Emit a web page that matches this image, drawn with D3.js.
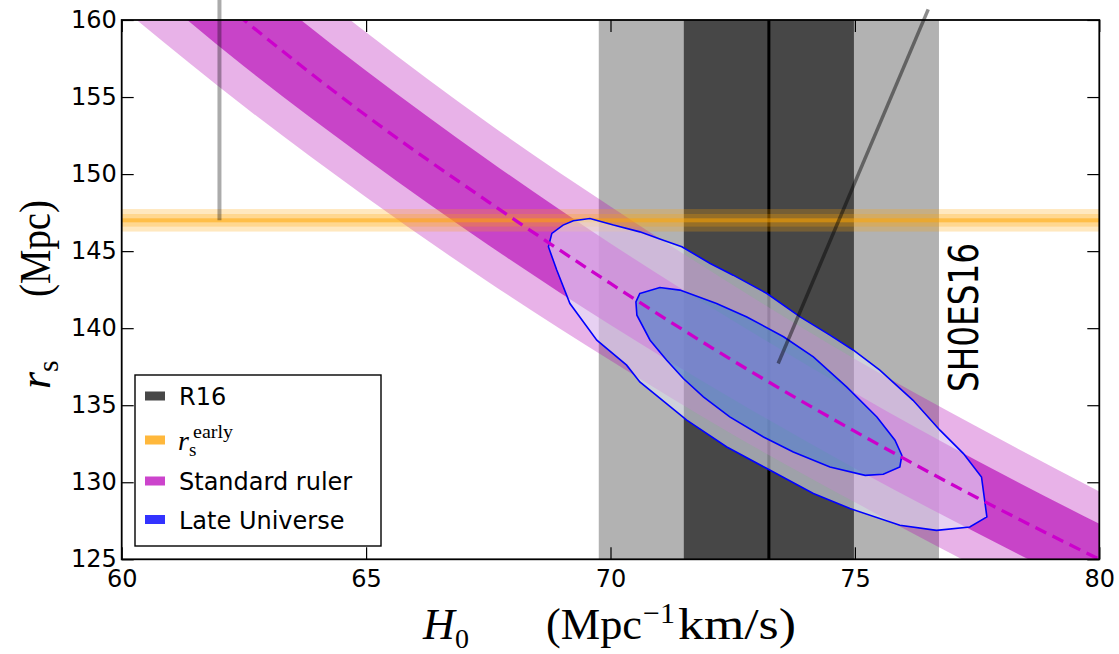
<!DOCTYPE html>
<html>
<head>
<meta charset="utf-8">
<script src="https://cdn.jsdelivr.net/npm/d3@7"></script>
<style>
html, body { margin: 0; padding: 0; background: #fff; }
svg { display: block; }
</style>
</head>
<body>
<svg id="chart" width="1119" height="654"></svg>
<script>
// ---- values ----
const xTicks = [60, 65, 70, 75, 80];
const yTicks = [125, 130, 135, 140, 145, 150, 155, 160];

// R16 local H0 (mean, 1 sigma, 2 sigma)
const r16Mid = 73.24;
const r16Inner = [71.50, 74.98];
const r16Outer = [69.76, 76.72];

// early-universe sound horizon
const rsEarlyMid = 147.0;
const rsEarlyHalfWidths = [0.73, 0.41, 0.13];

// standard ruler band, sampled along H0
const rulerH0   = [60, 62.5, 65, 67.5, 70, 72.5, 75, 77.5, 80];
const rulerMid  = [166.7, 160.0, 153.8, 148.2, 142.9, 137.9, 133.3, 129.0, 125.0];
const rulerLo1  = [163.6, 157.0, 151.0, 145.4, 140.2, 135.4, 130.9, 126.7, 122.7];
const rulerHi1  = [169.8, 163.0, 156.7, 150.9, 145.5, 140.5, 135.8, 131.4, 127.3];
const rulerLo2  = [160.8, 154.4, 148.5, 143.0, 137.9, 133.1, 128.7, 124.5, 120.6];
const rulerHi2  = [172.5, 165.6, 159.2, 153.3, 147.9, 142.8, 138.0, 133.6, 129.4];

// late universe contours [H0, rs]
const lateOuter = [
  [69.24, 146.97], [69.58, 147.12], [70.06, 146.69], [70.60, 146.25], [71.08, 145.71],
  [71.46, 145.28], [72.04, 144.20], [72.51, 143.44], [73.20, 142.25], [73.88, 140.73],
  [74.49, 139.55], [74.97, 138.57], [75.51, 137.27], [76.19, 135.32], [76.74, 133.38],
  [77.22, 131.86], [77.59, 130.34], [77.70, 127.75], [77.35, 127.10], [76.67, 126.88],
  [75.92, 127.21], [74.90, 128.29], [74.15, 129.27], [73.20, 130.89], [72.38, 132.29],
  [71.56, 134.03], [70.60, 136.51], [70.33, 137.60], [69.72, 139.22], [69.17, 141.60],
  [68.90, 143.77], [68.73, 145.28], [68.80, 146.15], [69.03, 146.69]
];
const lateInner = [
  [70.60, 142.25], [71.01, 142.64], [71.42, 142.47], [72.17, 141.60], [72.79, 140.73],
  [73.54, 139.44], [74.15, 138.14], [74.83, 136.19], [75.45, 134.24], [75.82, 132.73],
  [75.96, 131.75], [75.92, 130.99], [75.58, 130.52], [75.21, 130.45], [74.49, 130.99],
  [73.74, 131.97], [73.13, 132.94], [72.44, 134.24], [71.90, 135.54], [71.49, 136.73],
  [71.15, 137.92], [70.81, 139.22], [70.54, 140.84], [70.52, 141.71]
];

// grey guide lines [H0, rs]
const guideVertical = [[62.0, 147.0], [62.0, 161.4]];
const guideDiagonal = [[73.43, 137.71], [76.50, 160.69]];

const legendLabels = ["R16", "r_s^early", "Standard ruler", "Late Universe"];
const legendColors = ["#474747", "#ffb83c", "#cc44cc", "#3333ff"];

// ---- drawing ----
const svg = d3.select("#chart");
const x = d3.scaleLinear().domain([60, 80]).range([121.7, 1099.3]);
const y = d3.scaleLinear().domain([125, 160]).range([559.3, 20]);
const [x0, x1] = x.range();
const [yb, yt] = y.range();

svg.append("defs").append("clipPath").attr("id", "plotClip")
  .append("rect").attr("x", x0).attr("y", yt).attr("width", x1 - x0).attr("height", yb - yt);

const plot = svg.append("g").attr("clip-path", "url(#plotClip)");

// R16 bands
plot.append("rect")
  .attr("x", x(r16Outer[0])).attr("y", yt)
  .attr("width", x(r16Outer[1]) - x(r16Outer[0])).attr("height", yb - yt)
  .attr("fill", "#000").attr("fill-opacity", 0.3);
plot.append("rect")
  .attr("x", x(r16Inner[0])).attr("y", yt)
  .attr("width", x(r16Inner[1]) - x(r16Inner[0])).attr("height", yb - yt)
  .attr("fill", "#000").attr("fill-opacity", 0.6);
plot.append("line")
  .attr("x1", x(r16Mid)).attr("x2", x(r16Mid)).attr("y1", yt).attr("y2", yb)
  .attr("stroke", "#000").attr("stroke-width", 3);

// standard ruler bands
const rulerArea = (lo, hi) => d3.area()
  .x((d, i) => x(rulerH0[i]))
  .y0((d, i) => y(lo[i]))
  .y1((d, i) => y(hi[i]))
  .curve(d3.curveMonotoneX)(rulerH0);
plot.append("path").attr("d", rulerArea(rulerLo2, rulerHi2))
  .attr("fill", "rgb(180,0,180)").attr("fill-opacity", 0.3);
plot.append("path").attr("d", rulerArea(rulerLo1, rulerHi1))
  .attr("fill", "rgb(180,0,180)").attr("fill-opacity", 0.62);

// early sound horizon band
const orangeOpacity = [0.25, 0.25, 0.5];
rsEarlyHalfWidths.forEach((hw, i) => {
  plot.append("rect")
    .attr("x", x0).attr("width", x1 - x0)
    .attr("y", y(rsEarlyMid + hw)).attr("height", y(rsEarlyMid - hw) - y(rsEarlyMid + hw))
    .attr("fill", "rgb(255,165,0)").attr("fill-opacity", orangeOpacity[i]);
});

// late universe contours
const contourLine = d3.line().x(d => x(d[0])).y(d => y(d[1])).curve(d3.curveLinearClosed);
plot.append("path").attr("d", contourLine(lateOuter))
  .attr("fill", "rgb(230,235,250)").attr("fill-opacity", 0.55)
  .attr("stroke", "#0000ff").attr("stroke-width", 1.6);
plot.append("path").attr("d", contourLine(lateInner))
  .attr("fill", "rgb(70,130,200)").attr("fill-opacity", 0.6)
  .attr("stroke", "#0000ff").attr("stroke-width", 1.6);

// ruler centre (dashed)
plot.append("path")
  .attr("d", d3.line().x((d, i) => x(rulerH0[i])).y((d, i) => y(rulerMid[i])).curve(d3.curveMonotoneX)(rulerH0))
  .attr("fill", "none").attr("stroke", "#cc00cc").attr("stroke-width", 3.3)
  .attr("stroke-dasharray", "12,7");

// grey guide lines (not clipped, they run past the top)
const guide = d3.line().x(d => x(d[0])).y(d => y(d[1]));
svg.append("path").attr("d", guide(guideVertical))
  .attr("stroke", "#000").attr("stroke-opacity", 0.33).attr("stroke-width", 4).attr("fill", "none");
svg.append("path").attr("d", guide(guideDiagonal))
  .attr("stroke", "#000").attr("stroke-opacity", 0.45).attr("stroke-width", 3.5).attr("fill", "none");

// axes, ticks pointing inward on all four sides
const styleAxis = g => {
  g.select(".domain").remove();
  g.selectAll(".tick line").attr("stroke", "#000").attr("stroke-width", 1.2);
  g.selectAll("text").attr("font-family", "DejaVu Sans").attr("font-size", 24).attr("fill", "#000");
};
svg.append("g").attr("transform", `translate(0,${yb})`)
  .call(d3.axisBottom(x).tickValues(xTicks).tickSize(-12).tickPadding(11).tickFormat(d3.format("d")))
  .call(styleAxis);
svg.append("g").attr("transform", `translate(0,${yt})`)
  .call(d3.axisTop(x).tickValues(xTicks).tickSize(-12).tickFormat(""))
  .call(styleAxis);
svg.append("g").attr("transform", `translate(${x0},0)`)
  .call(d3.axisLeft(y).tickValues(yTicks).tickSize(-12).tickPadding(5).tickFormat(d3.format("d")))
  .call(styleAxis);
svg.append("g").attr("transform", `translate(${x1},0)`)
  .call(d3.axisRight(y).tickValues(yTicks).tickSize(-12).tickFormat(""))
  .call(styleAxis);
svg.append("rect")
  .attr("x", x0).attr("y", yt).attr("width", x1 - x0).attr("height", yb - yt)
  .attr("fill", "none").attr("stroke", "#000").attr("stroke-width", 1.8);

// SH0ES16 annotation
svg.append("text")
  .attr("transform", "translate(978,392) rotate(-90)")
  .attr("font-family", "DejaVu Sans").attr("font-size", 41)
  .attr("textLength", 149).attr("lengthAdjust", "spacingAndGlyphs")
  .text("SH0ES16");

// legend
const legend = svg.append("g");
legend.append("rect")
  .attr("x", 135).attr("y", 375).attr("width", 246).attr("height", 171)
  .attr("fill", "#fff").attr("stroke", "#000").attr("stroke-width", 1.4);
const legendY = [396, 440, 481, 519.5];
legendLabels.forEach((lab, i) => {
  legend.append("rect")
    .attr("x", 145).attr("y", legendY[i] - 4.5).attr("width", 20).attr("height", 9)
    .attr("fill", legendColors[i]);
  if (lab === "r_s^early") {
    const t = legend.append("text").attr("font-family", "Liberation Serif").attr("fill", "#000");
    t.append("tspan").attr("x", 178).attr("y", legendY[i] + 10).attr("font-size", 28)
      .attr("font-style", "italic").text("r");
    t.append("tspan").attr("x", 189).attr("y", legendY[i] + 16).attr("font-size", 19).text("s");
    t.append("tspan").attr("x", 193).attr("y", legendY[i] - 2).attr("font-size", 19)
      .attr("textLength", 40).attr("lengthAdjust", "spacingAndGlyphs").text("early");
  } else {
    legend.append("text")
      .attr("x", 179).attr("y", legendY[i] + 9)
      .attr("font-family", "DejaVu Sans").attr("font-size", 24).attr("fill", "#000")
      .text(lab);
  }
});

// x label: H_0   (Mpc^-1 km/s)
const xl = svg.append("g").attr("font-family", "Liberation Serif").attr("fill", "#000");
xl.append("text").attr("x", 423).attr("y", 639).attr("font-size", 44)
  .attr("font-style", "italic").text("H");
xl.append("text").attr("x", 455).attr("y", 648).attr("font-size", 28).text("0");
xl.append("text").attr("x", 546).attr("y", 639).attr("font-size", 44)
  .attr("textLength", 96).attr("lengthAdjust", "spacingAndGlyphs").text("(Mpc");
xl.append("text").attr("x", 643).attr("y", 623).attr("font-size", 30).text("\u22121");
xl.append("text").attr("x", 678).attr("y", 639).attr("font-size", 44)
  .attr("textLength", 118).attr("lengthAdjust", "spacingAndGlyphs").text("km/s)");

// y label: r_s   (Mpc), rotated
const yl = svg.append("g").attr("transform", "translate(50,0) rotate(-90)")
  .attr("font-family", "Liberation Serif").attr("fill", "#000");
yl.append("text").attr("x", -389).attr("y", 0).attr("font-size", 44)
  .attr("font-style", "italic").text("r");
yl.append("text").attr("x", -372).attr("y", 8).attr("font-size", 30).text("s");
yl.append("text").attr("x", -297).attr("y", 0).attr("font-size", 44)
  .attr("textLength", 97).attr("lengthAdjust", "spacingAndGlyphs").text("(Mpc)");
</script>
</body>
</html>
